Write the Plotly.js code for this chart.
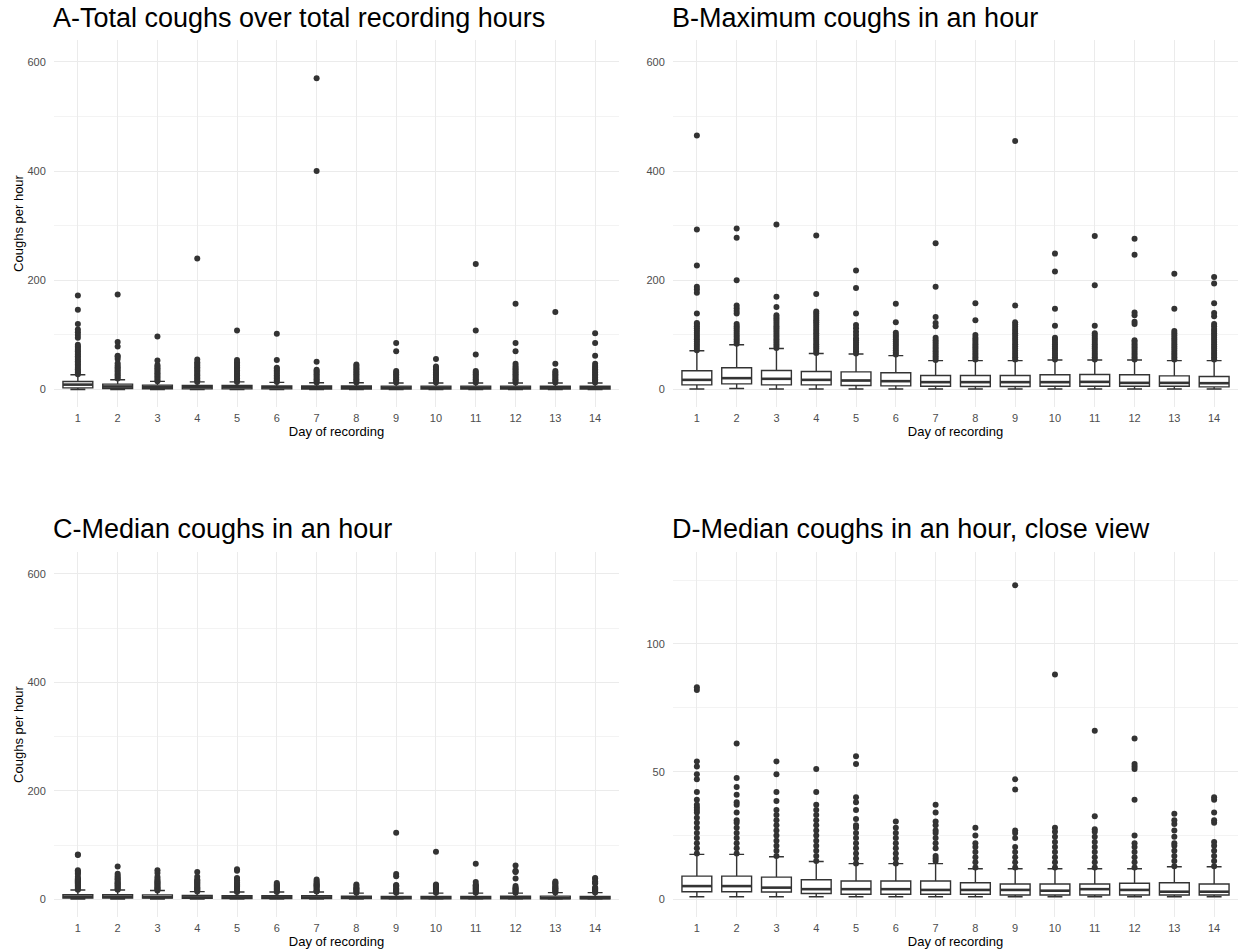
<!DOCTYPE html>
<html>
<head>
<meta charset="utf-8">
<script src="https://cdn.plot.ly/plotly-3.0.1.min.js"></script>
<style>html,body{margin:0;padding:0;background:#fff;}#chart{width:1239px;height:951px;}</style>
</head>
<body>
<div id="chart"></div>
<script>
// ---------- DATA ----------
const days = [1,2,3,4,5,6,7,8,9,10,11,12,13,14];
const dayLabels = ['1','2','3','4','5','6','7','8','9','10','11','12','13','14'];

// Panel A: total coughs over total recording hours
const aQ1  = [3.0,1.8,1.5,1.2,1.2,1.2,1.0,1.0,1.0,1.0,1.0,1.0,1.0,1.0];
const aMed = [9.0,5.5,4.8,4.3,4.3,4.0,3.7,3.7,3.5,3.5,3.5,3.5,3.3,3.3];
const aQ3  = [14.7,9.8,8.0,7.3,7.3,6.7,6.5,6.5,6.3,6.3,6.3,6.3,6.0,6.0];
const aLo  = [0,0,0,0,0,0,0,0,0,0,0,0,0,0];
const aHi  = [27,18,15,14,14,13,12.5,12.5,12,12,12,12,12,12];
const aOut = [
  [28,31,34,37,40,43,46,49,52,55,58,61,64,67,70,73,76,79,82,95,100,105,110,120,146,172],
  [20,23,26,29,32,35,38,41,44,48,56,60,62,79,87,174],
  [15,18,21,24,27,30,33,36,39,42,45,53,97],
  [14,17,20,23,26,29,32,35,38,41,44,47,50,55,240],
  [14,17,20,23,26,29,32,35,38,41,44,47,50,54,108],
  [14,17,20,23,26,29,32,35,38,40,54,102],
  [13,16,19,22,25,28,31,34,36,51,400,570],
  [13,16,19,22,25,28,31,34,37,40,43,46],
  [13,16,19,22,25,28,31,34,70,85],
  [13,16,19,22,25,28,31,34,37,40,42,56],
  [13,16,19,22,25,28,31,34,64,108,230],
  [13,16,19,22,25,28,31,34,37,40,43,47,70,85,157],
  [13,16,19,22,25,28,31,34,47,142],
  [13,16,19,22,25,28,31,34,37,40,43,47,62,85,103]
];

// Panel B: maximum coughs in an hour
const bQ1  = [8.6,10.4,8.6,8.6,7.3,6.7,6.1,5.5,5.5,6.1,6.1,6.1,6.1,4.9];
const bMed = [17.7,20.8,19.6,17.7,16.5,15.3,13.5,13.5,13.5,13.5,14.0,12.2,12.2,11.6];
const bQ3  = [34.3,39.8,34.9,33.0,32.4,30.6,25.7,25.7,25.7,27.0,27.5,27.0,25.0,23.9];
const bLo  = [1,2,1,1,1,1,1,1,1,1,1,1,1,1];
const bHi  = [71,82,75,66,65,62,53,53,53,54,54,54,53,53];
const bOut = [
  [72,76,80,84,88,92,96,100,104,108,112,116,120,122,139,177,183,188,227,293,465],
  [84,88,92,96,100,104,108,112,116,120,139,144,149,154,200,278,295],
  [76,80,84,88,92,96,100,104,108,112,116,120,124,128,132,136,151,170,302],
  [67,71,75,79,83,87,91,95,99,103,107,111,115,119,123,127,131,135,139,143,175,282],
  [66,70,74,78,82,86,90,94,100,106,112,118,139,186,218],
  [64,68,72,76,80,84,88,92,96,100,104,123,157],
  [54,58,62,66,70,74,78,82,86,90,95,116,122,133,188,268],
  [55,59,63,67,71,75,79,83,87,91,95,100,127,158],
  [55,59,63,67,71,75,79,83,87,91,95,99,103,107,111,115,119,123,154,455],
  [55,59,63,67,71,75,79,83,87,91,95,117,148,216,249],
  [55,59,63,67,71,75,79,83,87,91,95,99,103,117,191,281],
  [55,59,63,67,71,75,79,83,87,90,120,124,136,141,247,276],
  [55,59,63,67,71,75,79,83,87,91,95,99,103,107,148,212],
  [55,59,63,67,71,75,79,83,87,91,95,99,103,107,111,116,120,134,140,158,194,206]
];

// Panels C and D: median coughs in an hour (same data, two zoom levels)
const cQ1  = [3.0,3.0,2.9,2.3,2.0,2.0,2.0,2.0,1.7,1.7,1.7,1.7,1.7,1.7];
const cMed = [5.2,5.2,4.6,4.0,4.0,4.0,3.7,3.7,3.7,3.4,4.0,3.7,3.0,3.0];
const cQ3  = [9.1,9.1,8.7,7.7,7.2,7.2,7.2,6.5,6.0,6.0,6.0,6.3,6.5,6.0];
const cLo  = [1,1,1,1,1,1,1,1,1,1,1,1,1,1];
const cHi  = [17.6,17.6,16.7,14.8,14,14,14,12,12,12,12,12,12.8,12.8];
const cOut = [
  [18,20,22,24,26,28,30,32,34,35,36,37,39,42,47,49,52,54,82,83],
  [18,20,22,24,26,28,30,31,34,37,38,41,44,47.5,61],
  [17,19,21,23,25,27,29,31,33,35,38.5,42,49,54],
  [15,17,19,21,23,25,27,29,31,33,35,37,42,51],
  [14,16,18,20,22,24,26,28,29,31.5,35,38,40,53,56],
  [14,16,18,20,22,24,26,28,30.5],
  [15,16,17,20,22,24,26,27,29,30.5,34,37],
  [12.5,14.5,16.5,18.5,20.5,22,25,28],
  [12.5,14.5,16.5,18.5,20.5,24,26,27,43,47,123],
  [12.5,14.5,16.5,18.5,20.5,22.5,24.5,26.5,28,88],
  [12.5,14.5,16.5,18.5,20.5,22.5,24.5,26.5,27.5,32.5,66],
  [12.5,14.5,16.5,18.5,20.5,22,25,39,51,52,53,63],
  [13,15,17,19,21,22,24.5,27,29.5,31,33.5],
  [13,15,17,19,21,22.5,30,31,34,39,40]
];

const titles = [
  'A-Total coughs over total recording hours',
  'B-Maximum coughs in an hour',
  'C-Median coughs in an hour',
  'D-Median coughs in an hour, close view'
];

// ---------- STYLE ----------
const FONT = 'Liberation Sans, Arial, Helvetica, sans-serif';
const INK = '#333333';
const GRID = '#EBEBEB';
const W = 1239, H = 951;

function panelTraces(ax, q1, med, q3, lo, hi, out) {
  const xa = 'x' + (ax === 1 ? '' : ax), ya = 'y' + (ax === 1 ? '' : ax);
  const ox = [], oy = [];
  out.forEach((vals, i) => vals.forEach(v => { ox.push(days[i]); oy.push(v); }));
  return [
    {type:'box', x: days, q1: q1, median: med, q3: q3, lowerfence: lo, upperfence: hi,
     width: 0.75, boxpoints: false, fillcolor: '#ffffff',
     line: {color: INK, width: 1.4}, xaxis: xa, yaxis: ya, showlegend: false, hoverinfo: 'skip'},
    {type:'scatter', mode:'markers', x: days, y: med, xaxis: xa, yaxis: ya, showlegend: false,
     hoverinfo:'skip', marker: {symbol: 'line-ew', size: 21.3, color: INK, line: {color: INK, width: 2.6}}},
    {type:'scatter', mode:'markers', x: ox, y: oy, xaxis: xa, yaxis: ya, showlegend: false,
     marker: {size: 6, color: INK, line: {width: 0}}}
  ];
}

const data = [].concat(
  panelTraces(1, aQ1, aMed, aQ3, aLo, aHi, aOut),
  panelTraces(2, bQ1, bMed, bQ3, bLo, bHi, bOut),
  panelTraces(3, cQ1, cMed, cQ3, cLo, cHi, cOut),
  panelTraces(4, cQ1, cMed, cQ3, cLo, cHi, cOut)
);

const xL = [54 / W, 619 / W], xR = [673 / W, 1238 / W];
const yT = [1 - 407 / H, 1 - 40 / H], yB = [1 - 917 / H, 1 - 552 / H];

function xaxis(dom, anchor) {
  return {domain: dom, anchor: anchor, range: [0.4, 14.6], tickvals: days, ticktext: dayLabels,
    showgrid: true, gridcolor: GRID, gridwidth: 1, zeroline: false, showline: false,
    ticks: 'outside', ticklen: 1, tickcolor: 'rgba(0,0,0,0)',
    tickfont: {family: FONT, size: 11, color: '#4D4D4D'},
    title: {text: 'Day of recording', font: {family: FONT, size: 13, color: '#000'}, standoff: 1},
    fixedrange: true};
}
function yaxis(dom, anchor, range, major, minor, withTitle) {
  const a = {domain: dom, anchor: anchor, range: range, tickvals: major, ticktext: major.map(String),
    showgrid: true, gridcolor: GRID, gridwidth: 1, zeroline: false, showline: false,
    minor: {tickvals: minor, showgrid: true, gridcolor: GRID, gridwidth: 0.6, ticks: ''},
    ticks: 'outside', ticklen: 5, tickcolor: 'rgba(0,0,0,0)',
    tickfont: {family: FONT, size: 11, color: '#4D4D4D'}, fixedrange: true};
  if (withTitle) a.title = {text: 'Coughs per hour', font: {family: FONT, size: 13, color: '#000'}, standoff: 0};
  return a;
}

const titleAnn = (txt, xpx, ypx) => ({text: txt, xref: 'paper', yref: 'paper',
  x: xpx / W, y: 1 - ypx / H, xanchor: 'left', yanchor: 'middle', showarrow: false,
  font: {family: FONT, size: 27, color: '#000'}});

const layout = {
  width: W, height: H, margin: {l: 0, r: 0, t: 0, b: 0},
  paper_bgcolor: '#fff', plot_bgcolor: '#fff', showlegend: false,
  font: {family: FONT},
  xaxis: xaxis(xL, 'y'), yaxis: yaxis(yT, 'x', [-32, 640], [0,200,400,600], [100,300,500], true),
  xaxis2: xaxis(xR, 'y2'), yaxis2: yaxis(yT, 'x2', [-32, 640], [0,200,400,600], [100,300,500], false),
  xaxis3: xaxis(xL, 'y3'), yaxis3: yaxis(yB, 'x3', [-32, 640], [0,200,400,600], [100,300,500], true),
  xaxis4: xaxis(xR, 'y4'), yaxis4: yaxis(yB, 'x4', [-6.9, 136], [0,50,100], [25,75,125], false),
  annotations: [
    titleAnn(titles[0], 51, 18), titleAnn(titles[1], 670, 18),
    titleAnn(titles[2], 51, 529), titleAnn(titles[3], 670, 529)
  ]
};

Plotly.newPlot('chart', data, layout, {displayModeBar: false, staticPlot: true});
</script>
</body>
</html>
